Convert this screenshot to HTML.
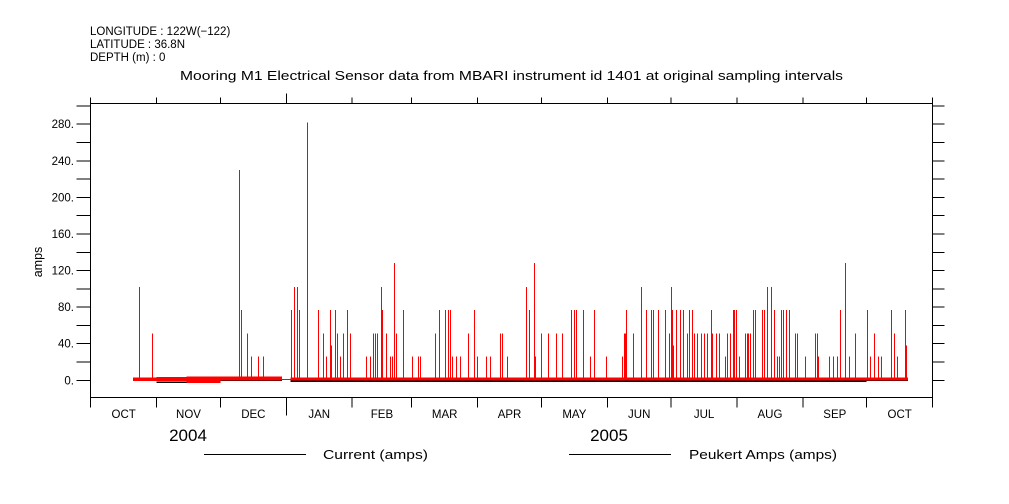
<!DOCTYPE html>
<html><head><meta charset="utf-8">
<style>
html,body{margin:0;padding:0;background:#fff;}
svg{display:block;font-family:"Liberation Sans",sans-serif;}
</style></head>
<body>
<svg id="chart" width="1009" height="504" viewBox="0 0 1009 504" xmlns="http://www.w3.org/2000/svg">
<g font-size="11.5" fill="#000">
<text x="90" y="35">LONGITUDE : 122W(−122)</text>
<text x="90" y="48">LATITUDE : 36.8N</text>
<text x="90" y="61">DEPTH (m) : 0</text>
<text x="180" y="80" font-size="12.5" textLength="663" lengthAdjust="spacingAndGlyphs">Mooring M1 Electrical Sensor data from MBARI instrument id 1401 at original sampling intervals</text>
</g>
<g id="axes" shape-rendering="crispEdges"></g>
<g id="series" shape-rendering="crispEdges"></g>
<text x="42" y="262" font-size="12.5" transform="rotate(-90 42 262)" text-anchor="middle">amps</text>
<text x="188" y="441" font-size="17" text-anchor="middle">2004</text>
<text x="609" y="441" font-size="17" text-anchor="middle">2005</text>
<g font-size="12.5">
<line x1="204" y1="454.5" x2="306" y2="454.5" stroke="#000" stroke-width="1"/>
<text x="323" y="459" textLength="105" lengthAdjust="spacingAndGlyphs">Current (amps)</text>
<line x1="569" y1="454.5" x2="671" y2="454.5" stroke="#000" stroke-width="1"/>
<text x="689" y="459" textLength="148" lengthAdjust="spacingAndGlyphs">Peukert Amps (amps)</text>
</g>
</svg>
<script>
// Data: days since 2004-10-01
const monthLabels = ["OCT","NOV","DEC","JAN","FEB","MAR","APR","MAY","JUN","JUL","AUG","SEP","OCT"];
const monthStartDays = [0,31,61,92,123,151,182,212,243,273,304,335,365,396];
const yTicks = [0,40,80,120,160,200,240,280];
const spikeDays = [22.7,28.8,69.8,70.7,73.5,75.4,78.7,81.0,94.2,95.6,97.0,98.0,101.7,106.9,109.3,110.7,112.6,113.0,114.9,115.9,117.3,118.7,120.6,122.0,129.5,131.4,132.8,133.7,134.7,136.6,137.0,138.9,140.8,141.7,142.7,143.6,146.9,151.1,154.0,154.9,162.0,163.8,166.7,168.1,169.0,170.0,171.8,173.7,177.5,180.3,181.7,186.0,187.8,192.5,193.5,195.8,204.8,206.2,208.5,209.0,211.8,215.1,218.9,221.7,225.9,227.4,228.3,231.6,234.9,236.8,242.4,249.9,250.9,251.3,251.8,255.1,258.9,261.2,263.6,264.5,266.9,270.2,272.0,273.0,273.4,273.9,275.3,277.2,278.6,280.5,281.4,282.9,283.8,285.2,287.1,288.5,289.9,291.8,292.3,294.1,295.6,298.4,299.3,300.7,302.1,302.6,303.5,305.0,307.8,308.7,309.2,310.1,311.6,312.5,315.8,316.7,318.1,320.0,321.4,322.8,323.8,324.7,325.7,327.1,328.5,331.3,332.2,336.0,340.7,341.7,342.1,347.3,349.2,351.1,352.5,354.8,356.7,359.5,365.2,366.6,368.5,370.4,371.8,376.5,377.9,379.3,383.1,383.5];
const spikeValues = [102,51,230,77,51,26,26,26,77,102,102,77,282,77,51,26,77,38,77,51,26,51,77,51,26,26,51,51,51,102,77,51,26,26,128,51,77,26,26,26,51,77,77,77,77,26,26,26,51,77,26,26,26,51,51,26,102,77,128,26,51,51,51,51,77,77,77,77,26,77,26,26,51,51,77,51,102,77,77,77,77,77,51,102,77,38,77,77,77,51,77,77,51,51,51,51,51,77,51,51,51,26,51,51,77,77,77,26,51,51,51,51,77,77,77,77,102,102,77,26,26,77,77,77,77,51,51,26,51,51,26,26,26,26,77,128,26,51,77,26,51,26,26,77,51,26,77,38];
// baseline envelope segments
const bandStart = [19.9,31,45,61,90,94,123,243,335];
const bandEnd   = [31,45,61,90,94,123,243,335,384.5];
const bandMax   = [3,3.5,4,4,1.5,3,3,3,3];
const bandMin   = [-1,-1,-3,0,0.5,0,0,0,0];
const currentStart = [19.9,31,61,94,365];
const currentEnd   = [31,61,90,365,384.5];
const currentLevel = [0,-2,0,-1.2,0];

const NS="http://www.w3.org/2000/svg";
const X0=90.7, PXD=2.126, Y0=380.3, PXA=0.9146;
const xs=d=>X0+d*PXD, ys=v=>Y0-v*PXA;
const L=90.5,R=932.5,T=103.5,B=397.5;
function mk(tag,attrs,parent){const e=document.createElementNS(NS,tag);for(const k in attrs)e.setAttribute(k,attrs[k]);parent.appendChild(e);return e;}
const ax=document.getElementById('axes');
let r=mk('rect',{x:L,y:T,width:R-L,height:B-T,fill:'none',stroke:'#000','stroke-width':1},ax);


for(let v=-20;v<=300;v+=20){
  const y=ys(v); if(y<T||y>B) continue;
  let t=mk('line',{x1:L-14,x2:L,y1:y,y2:y,stroke:'#000'},ax);
  
  
  let t2=mk('line',{x1:R,x2:R+12,y1:y,y2:y,stroke:'#000'},ax);
  
  
}
yTicks.forEach(v=>{
  let t=mk('text',{x:74,y:ys(v)+4,'font-size':11.5,'text-anchor':'end'},ax);
  t.textContent=v+'.';
  
  
});
monthStartDays.forEach((d,i)=>{
  const x=xs(d); const big=(d===92);
  let t=mk('line',{x1:x,x2:x,y1:B,y2:B+(big?18:10),stroke:'#000'},ax);
  
  
  let t2=mk('line',{x1:x,x2:x,y1:T-(big?10:6),y2:T,stroke:'#000'},ax);
  
  
  if(i<monthLabels.length){
    const mid=(d+monthStartDays[i+1])/2;
    let l=mk('text',{x:xs(mid),y:418,'font-size':11.5,'text-anchor':'middle'},ax);
    l.textContent=monthLabels[i];
    
    
  }
});
const se=document.getElementById('series');
currentStart.forEach((s,i)=>{
  let l=mk('line',{x1:xs(s),x2:xs(currentEnd[i]),y1:ys(currentLevel[i]),y2:ys(currentLevel[i]),stroke:'#000','stroke-width':1.5},se);
  
  
});
bandStart.forEach((s,i)=>{
  const y1=ys(bandMax[i]), y2=ys(bandMin[i]);
  let b=mk('rect',{x:xs(s),y:y1,width:xs(bandEnd[i])-xs(s),height:Math.max(1,y2-y1),fill:'#f00'},se);
  
  
});
spikeDays.forEach((d,i)=>{
  const x=Math.round(xs(d))+0.5;
  let l=mk('line',{x1:x,x2:x,y1:ys(0),y2:ys(spikeValues[i]),stroke:'#ff0000','stroke-width':1},se);
  
  
});
</script>
</body></html>
